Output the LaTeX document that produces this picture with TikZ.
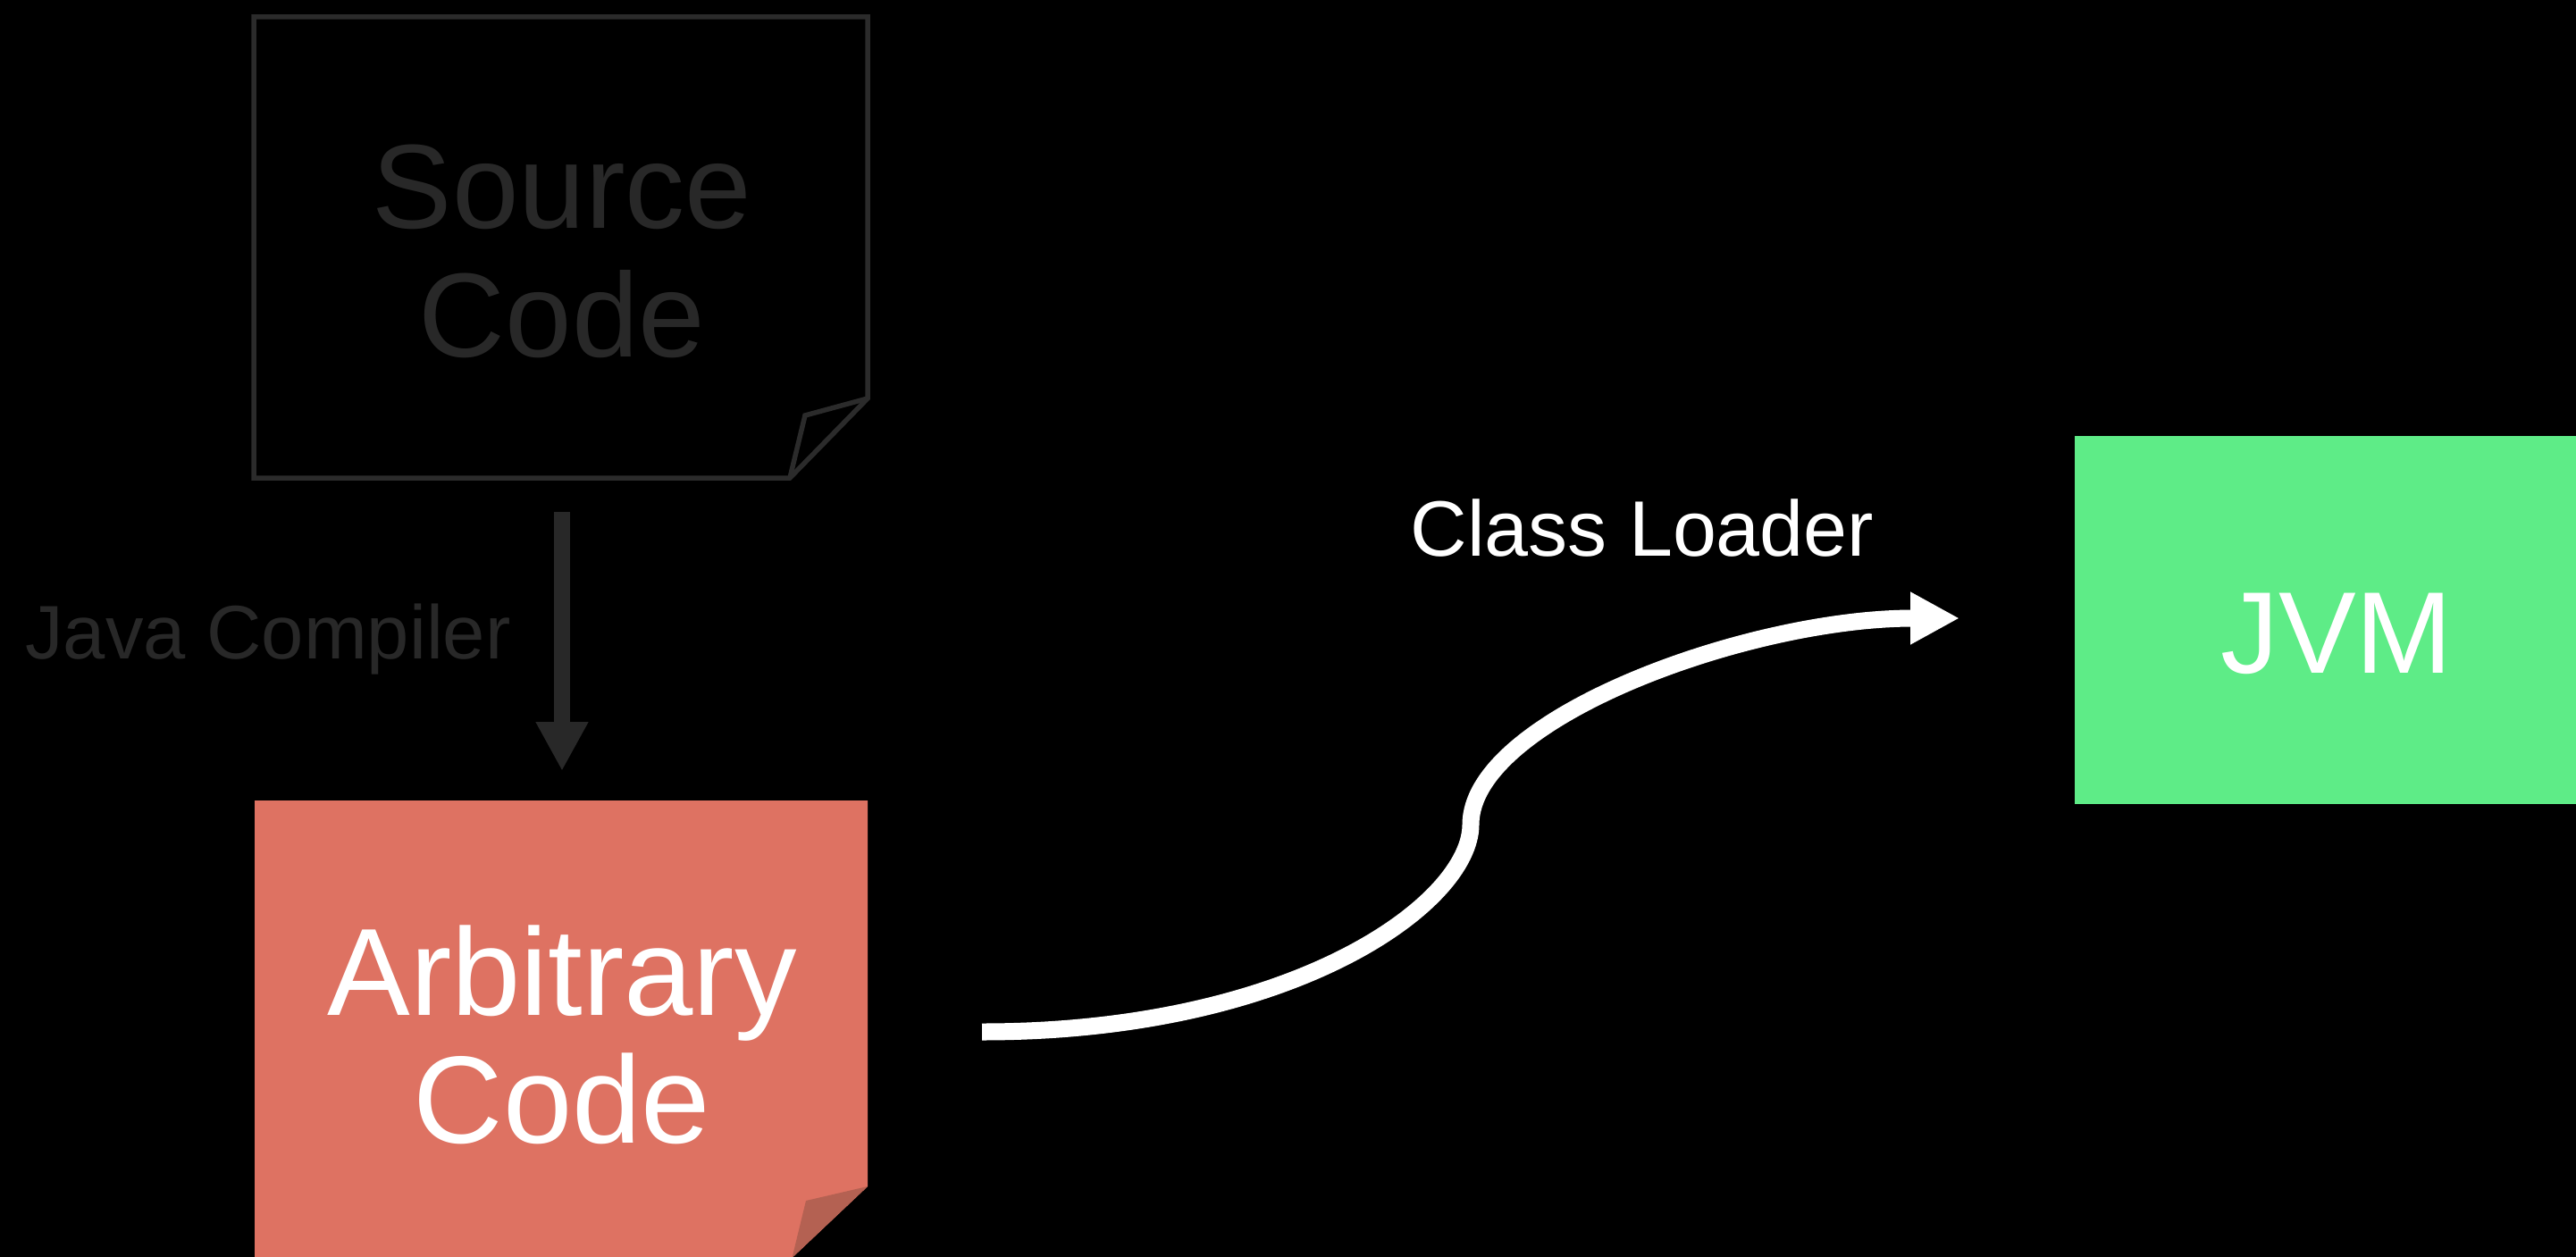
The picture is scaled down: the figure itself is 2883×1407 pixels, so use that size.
\documentclass[tikz,border=0pt]{standalone}
\usepackage{fontspec}
\setmainfont{Liberation Sans}
\usetikzlibrary{arrows.meta}
\definecolor{dimgray}{HTML}{282828}
\definecolor{srcline}{HTML}{2B2B2B}
\definecolor{codered}{HTML}{DE7262}
\definecolor{foldred}{HTML}{B46152}
\definecolor{jvmgreen}{HTML}{5EEC87}
\begin{document}
\begin{tikzpicture}[x=1pt,y=-1pt,
  txt/.style={inner sep=0pt, outer sep=0pt},
  dimtext/.style={txt, text=dimgray},
  whitetext/.style={txt, text=white},
  bigtip/.style={-{Triangle[length=55pt,width=55pt]}},
  outline/.style={draw=srcline, line width=5.5pt, line join=miter}]
\fill[black] (0,0) rectangle (2883,1407);
\useasboundingbox (0,0) rectangle (2883,1407);

% Source Code sheet (outline only)
\draw[outline] (284,19) -- (971,19) -- (971,446) -- (884,535) -- (284,535) -- cycle;
\draw[outline] (971,446) -- (901,465) -- (884,535);
\node[dimtext, align=center, font=\fontsize{134}{144}\selectfont] (src) at (629,281) {Source\\Code};

% Java Compiler arrow
\coordinate (gstart) at (629,573);
\coordinate (gend) at (629,863);
\draw[dimgray, line width=18pt, bigtip] (gstart) -- (gend);
\node[dimtext, anchor=base, font=\fontsize{85}{100}\selectfont] (jc) at (300,737) {Java Compiler};

% Arbitrary Code sheet (filled)
\begin{scope}
\clip (0,0) rectangle (2883,1407);
\fill[codered] (285,896) -- (971,896) -- (971,1328) -- (880,1414) -- (285,1414) -- cycle;
\fill[foldred] (971,1328) -- (902,1344) -- (885,1414) -- (880,1414) -- cycle;
\end{scope}
\node[whitetext, align=center, font=\fontsize{139}{143}\selectfont] (arb) at (629,1158) {Arbitrary\\Code};

% JVM box
\fill[jvmgreen] (2322,488) rectangle (2900,900);
\node[whitetext, anchor=base, font=\fontsize{130}{140}\selectfont] (jvm) at (2615,753) {JVM};

% Class Loader curve
\coordinate (cstart) at (1099,1155);
\coordinate (cmid) at (1646,923);
\coordinate (ctip) at (2193,692);
\draw[white, line width=19pt, bigtip] (cstart) .. controls (1450,1155) and (1646,1010) .. (cmid)
   .. controls (1646,805) and (1955,692) .. (ctip);
\node[whitetext, anchor=base, font=\fontsize{88}{100}\selectfont] (cl) at (1838,622) {Class Loader};
\end{tikzpicture}
\end{document}
